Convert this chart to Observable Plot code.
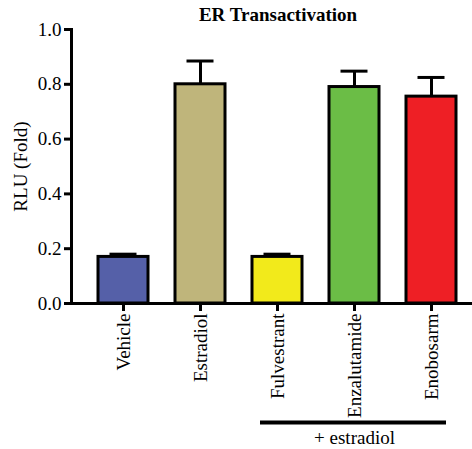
<!DOCTYPE html>
<html>
<head>
<meta charset="utf-8">
<script src="https://cdn.jsdelivr.net/npm/d3@7"></script>
<script src="https://cdn.jsdelivr.net/npm/@observablehq/plot@0.6"></script>
<style>
  html, body { margin: 0; padding: 0; background: #fff; }
</style>
</head>
<body>
<div id="chart"></div>
<script>
const names = ["Vehicle", "Estradiol", "Fulvestrant", "Enzalutamide", "Enobosarm"];
const values = [0.17, 0.80, 0.17, 0.79, 0.755];
const errors = [0.01, 0.085, 0.01, 0.058, 0.07];
const colors = ["#5560A8", "#BFB57B", "#F2EA1B", "#6BBD46", "#EE1F25"];
const yTicks = [0, 0.2, 0.4, 0.6, 0.8, 1.0];
const title = "ER Transactivation";
const yLabel = "RLU (Fold)";
const groupLabel = "+ estradiol";
const groupMembers = ["Fulvestrant", "Enzalutamide", "Enobosarm"];

const data = names.map((n, i) => ({name: n, value: values[i], err: errors[i]}));
const font = "'Liberation Serif', 'Times New Roman', serif";

const chart = Plot.plot({
  width: 472,
  height: 449,
  marginTop: 29,
  marginBottom: 146,
  marginLeft: 71,
  marginRight: 0,
  style: {fontFamily: font, fontSize: "19px", color: "#000", background: "#fff"},
  x: {domain: names, range: [71, 484], padding: 0.35, label: null},
  y: {domain: [0, 1], label: null},
  color: {domain: names, range: colors},
  marks: [
    Plot.ruleX(data, {x: "name", y1: "value", y2: d => d.value + d.err, stroke: "#000", strokeWidth: 3}),
    Plot.tickY(data, {x: "name", y: d => d.value + d.err, stroke: "#000", strokeWidth: 3, inset: 11.5}),
    Plot.barY(data, {x: "name", y: "value", fill: "name", stroke: "#000", strokeWidth: 3}),
    Plot.axisY({ticks: yTicks, tickFormat: d3.format(".1f"), tickSize: 7, tickPadding: 3, strokeWidth: 3, fontSize: 19,
      label: yLabel, labelAnchor: "center", labelArrow: "none", labelOffset: 58}),
    Plot.frame({anchor: "left", strokeWidth: 3}),
    Plot.axisX({tickRotate: -90, tickSize: 8, tickPadding: 2, strokeWidth: 3, fontSize: 19, label: null}),
    Plot.ruleY([0], {insetLeft: -7, strokeWidth: 3}),
    Plot.text([title], {frameAnchor: "top", dx: 6, dy: -9, lineAnchor: "bottom", fontWeight: "bold", fontSize: 19}),
    Plot.ruleY([groupLabel], {y: () => 0, x1: () => groupMembers[0], x2: () => groupMembers[groupMembers.length - 1],
      dy: 119, insetLeft: 8, insetRight: 10, strokeWidth: 4}),
    Plot.text([groupLabel], {x: () => groupMembers[1], y: () => 0, dy: 140, lineAnchor: "bottom", fontSize: 19})
  ]
});
document.getElementById("chart").appendChild(chart);
</script>
</body>
</html>
